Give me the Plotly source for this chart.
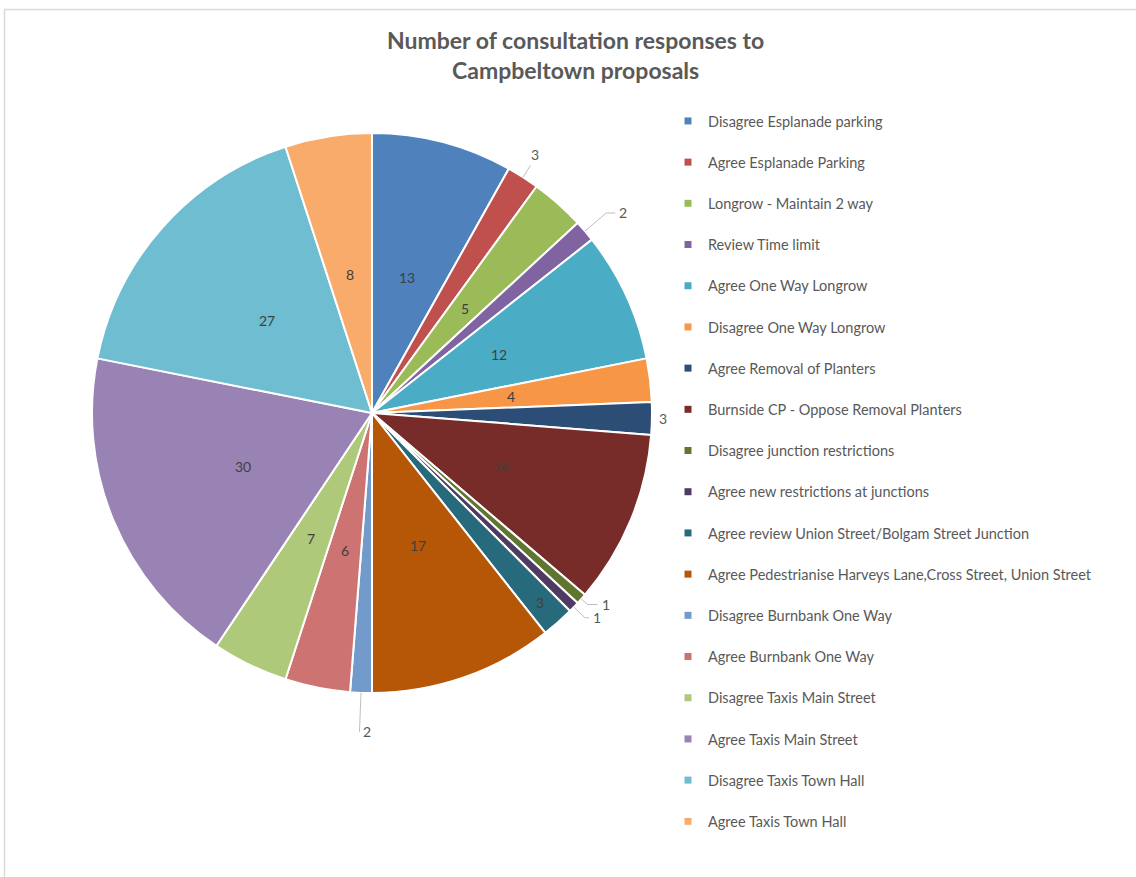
import math
import plotly.graph_objects as go

# Consultation responses per proposal
categories = [
    "Disagree Esplanade parking",
    "Agree Esplanade Parking",
    "Longrow - Maintain 2 way",
    "Review Time limit",
    "Agree One Way Longrow",
    "Disagree One Way Longrow",
    "Agree Removal of Planters",
    "Burnside CP - Oppose Removal Planters",
    "Disagree junction restrictions",
    "Agree new restrictions at junctions",
    "Agree review Union Street/Bolgam Street Junction",
    "Agree Pedestrianise Harveys Lane,Cross Street, Union Street",
    "Disagree Burnbank One Way",
    "Agree Burnbank One Way",
    "Disagree Taxis Main Street",
    "Agree Taxis Main Street",
    "Disagree Taxis Town Hall",
    "Agree Taxis Town Hall",
]
responses = [13, 3, 5, 2, 12, 4, 3, 16, 1, 1, 3, 17, 2, 6, 7, 30, 27, 8]

colors = [
    "#4F81BD", "#C0504D", "#9BBB59", "#8064A2", "#4BACC6", "#F79646",
    "#2C4D75", "#772C2A", "#5F7530", "#4D3B62", "#276A7C", "#B65708",
    "#729ACA", "#CD7371", "#AFC97A", "#9983B5", "#6FBDD1", "#F9AB6B",
]

W, H = 1136, 877
FONT = "Lato"

# pie geometry in pixels (domain is square, so radius = half its side)
CX, CY, R = 372, 413, 280

# data-label placement: (radial factor of the elbow/label, horizontal stub in px,
# draw leader line?) for labels sitting outside; the rest sit inside at INNER
label_place = {
    1: (1.05, -4, True),
    3: (1.10, 9, True),
    6: (1.01, 0, False),
    8: (1.03, 10, True),
    9: (1.055, 4, True),
    12: (1.14, 0, True),
}
inner_place = {10: 0.905}
INNER = 0.5


def to_paper(px, py):
    return px / W, 1 - py / H


def polar(frac, ang_deg):
    a = math.radians(ang_deg)
    return CX + frac * R * math.sin(a), CY - frac * R * math.cos(a)


fig = go.Figure()

fig.add_trace(go.Pie(
    labels=categories,
    values=responses,
    sort=False,
    direction="clockwise",
    rotation=0,
    marker=dict(colors=colors, line=dict(color="white", width=2)),
    textinfo="none",
    domain=dict(x=[(CX - R) / W, (CX + R) / W], y=[1 - (CY + R) / H, 1 - (CY - R) / H]),
    showlegend=False,
    hoverinfo="label+value",
))

# value labels, positioned at each slice's mid angle
total = sum(responses)
annotations = []
shapes = []
cum = 0
for i, v in enumerate(responses):
    mid = (cum + v / 2) / total * 360
    cum += v
    if i in label_place:
        k, stub, leader = label_place[i]
        ex, ey = polar(k, mid)
        if leader:
            sx, sy = polar(1.0, mid)
            x0, y0 = to_paper(sx, sy)
            x1, y1 = to_paper(ex, ey)
            x2, y2 = to_paper(ex + max(stub, 0), ey)
            shapes.append(dict(
                type="path", xref="paper", yref="paper",
                path=f"M {x0} {y0} L {x1} {y1} L {x2} {y2}",
                line=dict(color="#BFBFBF", width=1),
            ))
        ax, ay = to_paper(ex + stub + 2, ey)
        annotations.append(dict(
            x=ax, y=ay, xref="paper", yref="paper", text=str(v),
            showarrow=False, xanchor="left",
            yanchor="bottom" if i == 1 else "middle",
            font=dict(family=FONT, size=14, color="#595959"),
        ))
    else:
        px, py = polar(inner_place.get(i, INNER), mid)
        ax, ay = to_paper(px, py)
        annotations.append(dict(
            x=ax, y=ay, xref="paper", yref="paper", text=str(v),
            showarrow=False, xanchor="center", yanchor="middle",
            font=dict(family=FONT, size=14, color="#404040"),
        ))

# chart title
tx, ty = to_paper(575, 55)
annotations.append(dict(
    x=tx, y=ty, xref="paper", yref="paper",
    text="<b>Number of consultation responses to<br>Campbeltown proposals</b>",
    showarrow=False, xanchor="center", yanchor="middle",
    font=dict(family=FONT, size=23, color="#595959"),
))

# legend entries as square swatches, one group each so the gap spaces them out
for i, (name, col) in enumerate(zip(categories, colors)):
    fig.add_trace(go.Scatter(
        x=[None], y=[None], mode="markers", name=name,
        marker=dict(symbol="square", size=7, color=col),
        legendgroup=f"g{i}", showlegend=True,
    ))

# thin chart-area frame along the top and left edges
bx0, by0 = to_paper(4.5, 9.5)
shapes += [
    dict(type="line", xref="paper", yref="paper",
         x0=bx0, x1=1.0, y0=by0, y1=by0,
         line=dict(color="#D9D9D9", width=1.5)),
    dict(type="line", xref="paper", yref="paper",
         x0=bx0, x1=bx0, y0=0, y1=by0,
         line=dict(color="#D9D9D9", width=1.5)),
]

lx, ly = to_paper(668, 105)
fig.update_layout(
    width=W, height=H,
    margin=dict(l=0, r=0, t=0, b=0),
    paper_bgcolor="white", plot_bgcolor="white",
    xaxis=dict(visible=False), yaxis=dict(visible=False),
    legend=dict(
        x=lx, xanchor="left", y=ly, yanchor="top",
        font=dict(family=FONT, size=14.5, color="#595959"),
        tracegroupgap=19.35, itemwidth=30,
        bgcolor="rgba(0,0,0,0)",
    ),
    annotations=annotations,
    shapes=shapes,
)

fig.write_html("out.html")
